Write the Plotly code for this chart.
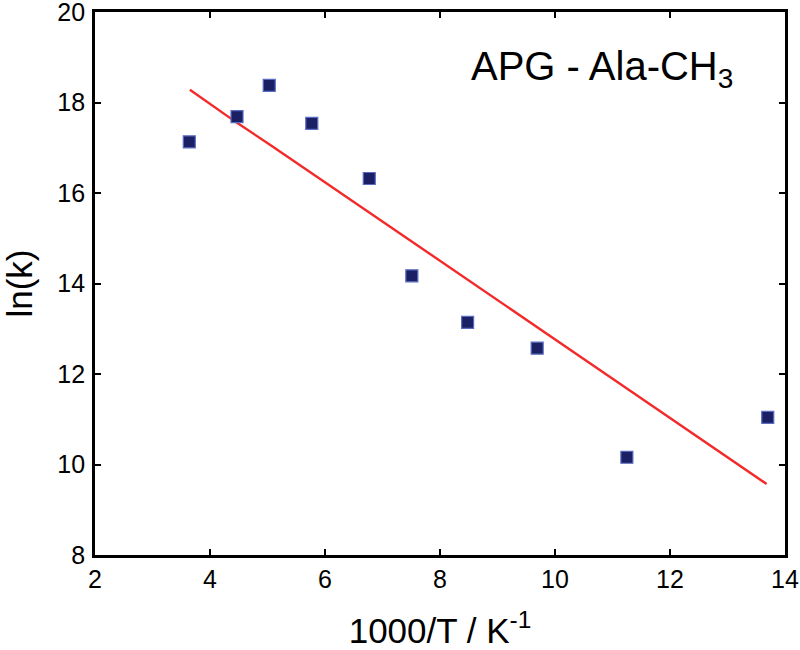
import plotly.graph_objects as go

inv_T = [3.64, 4.47, 5.03, 5.77, 6.77, 7.51, 8.48, 9.69, 11.25, 13.70]
ln_k = [17.13, 17.69, 18.38, 17.54, 16.32, 14.17, 13.14, 12.57, 10.16, 11.04]
fit_x = [3.65, 4.47, 5.03, 5.77, 6.77, 7.51, 8.48, 9.69, 11.25, 13.68]
fit_y = [18.28, 17.55, 17.08, 16.44, 15.57, 14.93, 14.09, 13.04, 11.68, 9.57]
x_ticks = [2, 4, 6, 8, 10, 12, 14]
y_ticks = [8, 10, 12, 14, 16, 18, 20]

FONT = "Liberation Sans, Arial, Helvetica"

fig = go.Figure()
fig.add_trace(go.Scatter(x=fit_x, y=fit_y, mode="lines",
                         line=dict(color="#f42a2a", width=2.4), showlegend=False))
fig.add_trace(go.Scatter(x=inv_T, y=ln_k, mode="markers",
                         marker=dict(symbol="square", size=12, color="#1b1f64",
                                     line=dict(color="#5a6cc0", width=1.2)),
                         showlegend=False))

axis_common = dict(showline=True, linecolor="black", linewidth=2.8, mirror="ticks",
                   ticks="inside", ticklen=6, tickwidth=1.6, tickcolor="black",
                   showgrid=False, zeroline=False, automargin=False,
                   ticklabeloverflow="allow",
                   tickfont=dict(family=FONT, size=25, color="black"))

fig.update_xaxes(range=[2, 14], tickvals=x_ticks,
                 title=dict(text="1000/T / K<sup>-1</sup>",
                            font=dict(family=FONT, size=35, color="black"),
                            standoff=28),
                 **axis_common)
fig.update_yaxes(range=[8, 20], tickvals=y_ticks, ticklabelstandoff=2,
                 title=dict(text="ln(k)",
                            font=dict(family=FONT, size=35, color="black"),
                            standoff=22),
                 **axis_common)

fig.add_annotation(x=0.9275, y=0.895, xref="paper", yref="paper", xanchor="right", yanchor="middle",
                   text="APG - Ala-CH<sub>3</sub>", showarrow=False,
                   font=dict(family=FONT, size=40, color="black"))

fig.update_layout(width=800, height=650, plot_bgcolor="white", paper_bgcolor="white",
                  margin=dict(l=95, r=15, t=12, b=95))

# remove the default page margin so the 800x650 figure fills the window exactly
fig.write_html("out.html", config={"displayModeBar": False},
               post_script="document.body.style.margin='0';")
